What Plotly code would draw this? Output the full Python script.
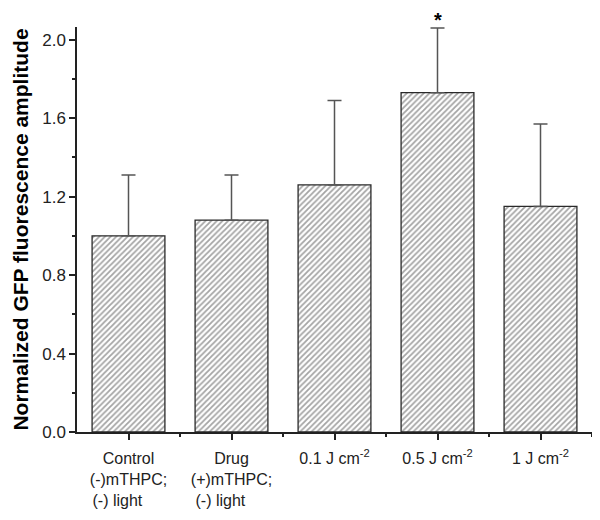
import plotly.graph_objects as go

categories = ["Control<br>(-)mTHPC;<br>(-) light&nbsp;&nbsp;&nbsp;&nbsp;&nbsp;",
              "Drug<br>(+)mTHPC;<br>(-) light&nbsp;&nbsp;&nbsp;&nbsp;&nbsp;",
              "0.1 J cm<sup>-2</sup>",
              "0.5 J cm<sup>-2</sup>",
              "1 J cm<sup>-2</sup>"]
values = [1.00, 1.08, 1.26, 1.73, 1.15]
errors = [0.31, 0.23, 0.43, 0.33, 0.42]
y_ticks = [0.0, 0.4, 0.8, 1.2, 1.6, 2.0]
y_ticklabels = ["0.0", "0.4", "0.8", "1.2", "1.6", "2.0"]
significant = [False, False, False, True, False]

x = list(range(len(categories)))

fig = go.Figure()
fig.add_trace(go.Bar(
    x=x, y=values, width=0.707,
    marker=dict(color="white",
                line=dict(color="#2a2a2a", width=1.3),
                pattern=dict(shape="/", fgcolor="#4a4a4a", bgcolor="white",
                             size=4, solidity=0.45)),
    error_y=dict(type="data", array=errors, arrayminus=[0]*len(errors),
                 symmetric=False, color="#555555", thickness=1.5, width=7),
    showlegend=False,
))

for i, s in enumerate(significant):
    if s:
        fig.add_annotation(x=x[i], y=values[i] + errors[i], text="<b>*</b>",
                           showarrow=False, yshift=8,
                           font=dict(size=20, color="black", family="Liberation Sans"))

fig.update_layout(
    width=600, height=520,
    margin=dict(l=69, r=16, t=19, b=96, autoexpand=False),
    paper_bgcolor="white", plot_bgcolor="white",
    font=dict(family="Liberation Sans, Arial, sans-serif", size=16, color="#222222"),
    bargap=0.3,
)
fig.update_xaxes(
    range=[-0.5, 4.5], tickvals=x, ticktext=categories,
    showline=True, linecolor="#222222", linewidth=1.5,
    ticks="outside", ticklen=6, tickwidth=1.5, tickcolor="#222222",
    minor=dict(tickvals=[0.5, 1.5, 2.5, 3.5, 4.5], ticks="outside", ticklen=3,
               tickwidth=1.5, tickcolor="#222222"),
    showgrid=False, zeroline=False, tickfont=dict(size=16), automargin=False,
    ticklabelstandoff=5,
)
fig.update_yaxes(
    range=[0, 2.065], tickvals=y_ticks, ticktext=y_ticklabels,
    showline=True, linecolor="#222222", linewidth=1.5,
    ticks="outside", ticklen=6, tickwidth=1.5, tickcolor="#222222",
    minor=dict(dtick=0.2, tick0=0, ticks="outside", ticklen=3, tickwidth=1.5,
               tickcolor="#222222"),
    showgrid=False, zeroline=False, automargin=False,
    title=dict(text="<b>Normalized GFP fluorescence amplitude</b>",
               font=dict(size=21, color="black"), standoff=8),
    tickfont=dict(size=17),
)

fig.write_html("out.html")
